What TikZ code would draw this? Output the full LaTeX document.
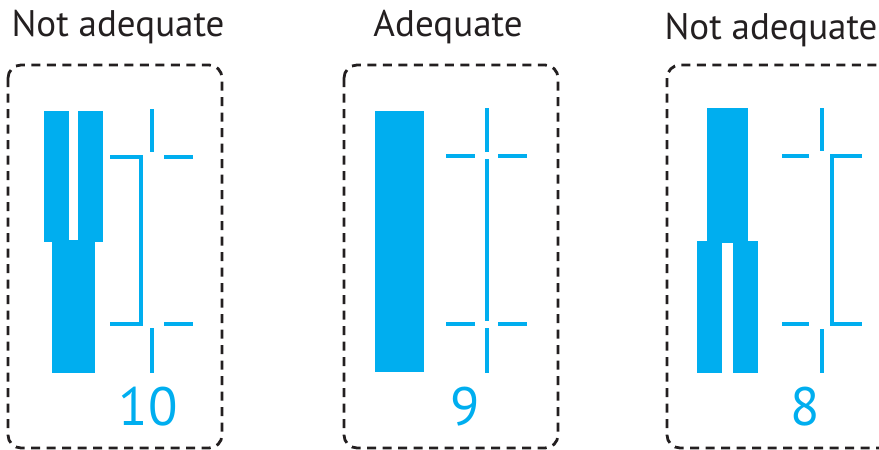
\documentclass[tikz,border=0pt]{standalone}
\usepackage{fontspec}
\setmainfont{PT Sans}
\definecolor{cy}{RGB}{0,174,239}
\definecolor{dk}{RGB}{35,31,32}
\begin{document}
\begin{tikzpicture}[x=1pt,y=-1pt,
  frame/.style={draw=dk,line width=2.8pt,dash pattern=on 9pt off 6.5pt,rounded corners=13pt},
  bar/.style={fill=cy,draw=none},
  dim/.style={draw=cy,line width=4pt},
  ttl/.style={font=\fontsize{37}{40}\selectfont,text=dk,inner sep=0pt},
  num/.style={font=\fontsize{54}{56}\selectfont,text=cy,inner sep=0pt}]
\useasboundingbox (0,0) rectangle (879,450);
% frames
\draw[frame] (8,65) rectangle (222,448);
\draw[frame] (344,65) rectangle (558,448);
\draw[frame] (667,65) rectangle (892,448);
% titles
\node[ttl] (t1) at (118,27) {Not adequate};
\node[ttl] (t2) at (448,27) {Adequate};
\node[ttl] (t3) at (771,30) {Not adequate};
% panel 1
\fill[bar] (44,111) rectangle (69,242);
\fill[bar] (78,111) rectangle (103,242);
\fill[bar] (52,240) rectangle (95,373);
\draw[dim] (152,109) -- (152,152);
\draw[dim] (110,157) -- (141,157) -- (141,324) -- (110,324);
\draw[dim] (164,157) -- (193,157);
\draw[dim] (164,324) -- (193,324);
\draw[dim] (152,328) -- (152,373);
\node[num] (n1) at (148,407) {10};
% panel 2
\fill[bar] (375,111) rectangle (424,372);
\draw[dim] (487,108) -- (487,152);
\draw[dim] (487,159) -- (487,321);
\draw[dim] (487,328) -- (487,373);
\draw[dim] (446,156) -- (475,156);
\draw[dim] (498,156) -- (527,156);
\draw[dim] (446,324) -- (475,324);
\draw[dim] (498,324) -- (527,324);
\node[num] (n2) at (465,407) {9};
% panel 3
\fill[bar] (707,108) rectangle (748,243);
\fill[bar] (697,241) rectangle (722,373);
\fill[bar] (733,241) rectangle (758,373);
\draw[dim] (822,108) -- (822,151);
\draw[dim] (782,156) -- (809,156);
\draw[dim] (862,156) -- (832,156) -- (832,324) -- (862,324);
\draw[dim] (782,324) -- (809,324);
\draw[dim] (822,329) -- (822,373);
\node[num] (n3) at (805,407) {8};
\end{tikzpicture}
\end{document}
